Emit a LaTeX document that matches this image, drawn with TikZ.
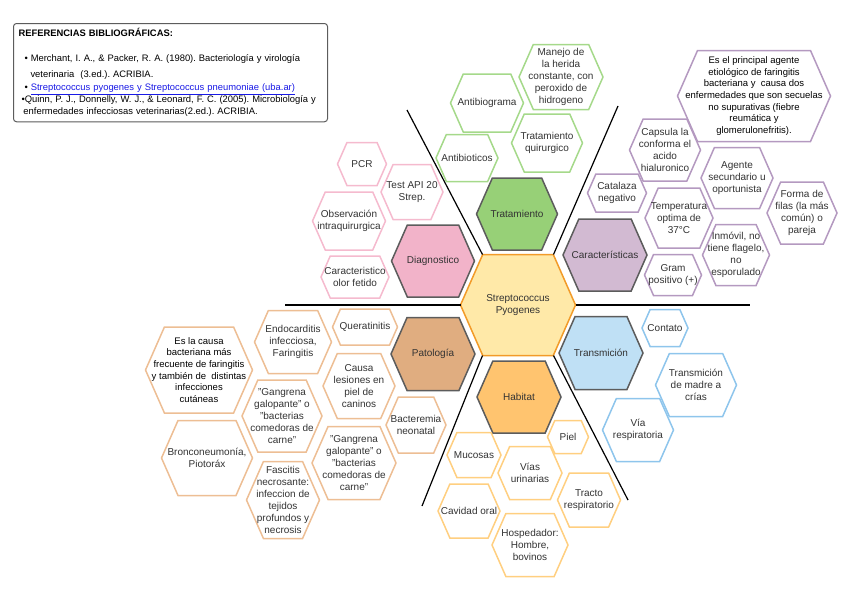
\documentclass[tikz,border=0pt]{standalone}
\usepackage{fontspec}
\setmainfont{Liberation Sans}
\usepackage{tikz}
\frenchspacing

\definecolor{inkgray}{HTML}{333333}
\definecolor{mainLine}{HTML}{5C5C5C}
\definecolor{coreFill}{HTML}{FFE9A8}
\definecolor{coreLine}{HTML}{F29B29}
\definecolor{tratFill}{HTML}{97D077}
\definecolor{tratLine}{HTML}{A5D98A}
\definecolor{caraFill}{HTML}{D2BAD2}
\definecolor{caraLine}{HTML}{B499C0}
\definecolor{diagFill}{HTML}{F2B3C9}
\definecolor{diagLine}{HTML}{F5BACE}
\definecolor{patoFill}{HTML}{E0AD80}
\definecolor{patoLine}{HTML}{EDBE94}
\definecolor{tranFill}{HTML}{BFE0F5}
\definecolor{tranLine}{HTML}{8EC5EC}
\definecolor{habiFill}{HTML}{FFC46F}
\definecolor{habiLine}{HTML}{FFCF80}
\definecolor{linkblue}{HTML}{1A1AE6}

\makeatletter
\pgfdeclareshape{hexbox}{%
  \inheritsavedanchors[from=rectangle]%
  \inheritanchorborder[from=rectangle]%
  \inheritanchor[from=rectangle]{center}%
  \inheritanchor[from=rectangle]{north}%
  \inheritanchor[from=rectangle]{south}%
  \inheritanchor[from=rectangle]{east}%
  \inheritanchor[from=rectangle]{west}%
  \inheritanchor[from=rectangle]{north east}%
  \inheritanchor[from=rectangle]{north west}%
  \inheritanchor[from=rectangle]{south east}%
  \inheritanchor[from=rectangle]{south west}%
  \inheritanchor[from=rectangle]{text}%
  \inheritanchor[from=rectangle]{base}%
  \backgroundpath{%
    \southwest \pgf@xa=\pgf@x \pgf@ya=\pgf@y
    \northeast \pgf@xb=\pgf@x \pgf@yb=\pgf@y
    \pgf@xc=\pgf@yb \advance\pgf@xc by -\pgf@ya
    \pgf@xc=.22\pgf@xc
    \pgf@yc=.5\pgf@ya \advance\pgf@yc by .5\pgf@yb
    \edef\hexL{\the\pgf@xa}\edef\hexR{\the\pgf@xb}%
    \edef\hexB{\the\pgf@ya}\edef\hexT{\the\pgf@yb}\edef\hexM{\the\pgf@yc}%
    \advance\pgf@xa by \pgf@xc \edef\hexLi{\the\pgf@xa}%
    \advance\pgf@xb by -\pgf@xc \edef\hexRi{\the\pgf@xb}%
    \pgfpathmoveto{\pgfqpoint{\hexL}{\hexM}}%
    \pgfpathlineto{\pgfqpoint{\hexLi}{\hexT}}%
    \pgfpathlineto{\pgfqpoint{\hexRi}{\hexT}}%
    \pgfpathlineto{\pgfqpoint{\hexR}{\hexM}}%
    \pgfpathlineto{\pgfqpoint{\hexRi}{\hexB}}%
    \pgfpathlineto{\pgfqpoint{\hexLi}{\hexB}}%
    \pgfpathclose
  }%
}
\makeatother

\tikzset{
  hexa/.style={shape=hexbox, outer sep=0pt, inner sep=0.5pt, align=center, text=inkgray},
  corehex/.style={hexa, draw=coreLine, line width=1.5pt, fill=coreFill},
  mainhex/.style={hexa, draw=mainLine, line width=1.5pt},
  trathex/.style={hexa, draw=tratLine, line width=1.5pt, fill=white},
  carahex/.style={hexa, draw=caraLine, line width=1.5pt, fill=white},
  diaghex/.style={hexa, draw=diagLine, line width=1.5pt, fill=white},
  patohex/.style={hexa, draw=patoLine, line width=1.5pt, fill=white},
  tranhex/.style={hexa, draw=tranLine, line width=1.5pt, fill=white},
  habihex/.style={hexa, draw=habiLine, line width=1.5pt, fill=white},
  longtext/.style={text=black, font=\fontsize{9.5}{11.7}\selectfont},
  divider/.style={line width=1.2pt, black},
  refbox/.style={draw=mainLine, rounded corners=3pt, line width=1pt, fill=white, anchor=north west,
    align=left, text width=304pt, inner sep=5pt, minimum height=97pt, font=\fontsize{9}{12}\selectfont, text=black}
}

\begin{document}
\begin{tikzpicture}[x=1pt, y=-1pt, every node/.style={font=\fontsize{10}{11.9}\selectfont}]
  \useasboundingbox (0,0) rectangle (848,589);

  \node[refbox] (refs) at (13,23) {\fontsize{9.4}{12}\selectfont\textbf{REFERENCIAS BIBLIOGRÁFICAS:}\\[13pt]
    \hspace*{6pt}• Merchant, I. A., \& Packer, R. A. (1980). Bacteriología y virología\\[4pt]
    \hspace*{12pt}veterinaria\ \ (3.ed.). ACRIBIA.\\[1pt]
    \hspace*{6pt}• \textcolor{linkblue}{\underline{Streptococcus pyogenes y Streptococcus pneumoniae (uba.ar)}}\\
    \hspace*{3pt}•Quinn, P. J., Donnelly, W. J., \& Leonard, F. C. (2005). Microbiología y\\
    \hspace*{5pt}enfermedades infecciosas veterinarias(2.ed.). ACRIBIA.};

  \node[corehex, minimum width=115pt, minimum height=101pt] (strep) at (518,305) {Streptococcus\\Pyogenes};

  \coordinate (cutW) at (285,305);
  \coordinate (cutE) at (750,305);
  \coordinate (cutNW) at (407,110);
  \coordinate (cutNE) at (618,106);
  \coordinate (cutSW) at (422,506);
  \coordinate (cutSE) at (628,500);
  \draw[divider] (strep.west) -- (cutW);
  \draw[divider] (strep.east) -- (cutE);
  \draw[divider] ([xshift=22pt]strep.north west) -- (cutNW);
  \draw[divider] ([xshift=-22pt]strep.north east) -- (cutNE);
  \draw[divider] ([xshift=22pt]strep.south west) -- (cutSW);
  \draw[divider] ([xshift=-22pt]strep.south east) -- (cutSE);

  \node[mainhex, fill=tratFill, minimum width=81pt, minimum height=72pt] (trat) at (517,214) {Tratamiento};
  \node[mainhex, fill=caraFill, minimum width=84pt, minimum height=72pt] (cara) at (605,255) {Características};
  \node[mainhex, fill=diagFill, minimum width=83pt, minimum height=72pt] (diag) at (433,261) {Diagnostico};
  \node[mainhex, fill=patoFill, minimum width=84pt, minimum height=73pt] (pato) at (433,354) {Patología};
  \node[mainhex, fill=tranFill, minimum width=84pt, minimum height=73pt] (tran) at (601,353) {Transmición};
  \node[mainhex, fill=habiFill, minimum width=84pt, minimum height=72pt] (habi) at (519,397) {Habitat};

  \node[trathex, minimum width=73pt, minimum height=58pt] (trat1) at (487,103) {Antibiograma};
  \node[trathex, minimum width=84pt, minimum height=65pt] (trat2) at (561,77) {Manejo de\\la herida\\constante, con\\peroxido de\\hidrogeno};
  \node[trathex, minimum width=71pt, minimum height=58pt] (trat3) at (547,143) {Tratamiento\\quirurgico};
  \node[trathex, minimum width=62pt, minimum height=47pt] (trat4) at (467,158) {Antibioticos};

  \node[diaghex, minimum width=49pt, minimum height=43pt] (diag1) at (362,164) {PCR};
  \node[diaghex, minimum width=62pt, minimum height=55pt] (diag2) at (412,192) {Test API 20\\Strep.};
  \node[diaghex, minimum width=73pt, minimum height=58pt] (diag3) at (349,221) {Observación\\intraquirurgica};
  \node[diaghex, minimum width=68pt, minimum height=42pt] (diag4) at (355,277) {Caracteristico\\olor fetido};

  \node[carahex, longtext, minimum width=153pt, minimum height=91pt] (cara1) at (754,96) {Es el principal agente\\etiológico de faringitis\\bacteriana y\ \ causa dos\\enfermedades que son secuelas\\no supurativas (fiebre\\reumática y\\glomerulonefritis).};
  \node[carahex, minimum width=71pt, minimum height=62pt] (cara2) at (665,150) {Capsula la\\conforma el\\acido\\hialuronico};
  \node[carahex, minimum width=72pt, minimum height=61pt] (cara3) at (737,178) {Agente\\secundario u\\oportunista};
  \node[carahex, minimum width=59pt, minimum height=38pt] (cara4) at (617,193) {Catalaza\\negativo};
  \node[carahex, minimum width=68pt, minimum height=60pt] (cara5) at (679,218) {Temperatura\\optima de\\37°C};
  \node[carahex, minimum width=70pt, minimum height=62pt] (cara6) at (802,213) {Forma de\\filas (la más\\común) o\\pareja};
  \node[carahex, minimum width=67pt, minimum height=61pt] (cara7) at (736,255) {Inmóvil, no\\tiene flagelo,\\no\\esporulado};
  \node[carahex, minimum width=57pt, minimum height=41pt] (cara8) at (673,275) {Gram\\positivo (+)};

  \node[patohex, longtext, minimum width=107pt, minimum height=86pt] (pato1) at (199,370) {Es la causa\\bacteriana más\\frecuente de faringitis\\y también de\ \ distintas\\infecciones\\cutáneas};
  \node[patohex, minimum width=77pt, minimum height=63pt] (pato2) at (293,342) {Endocarditis\\infecciosa,\\Faringitis};
  \node[patohex, minimum width=65pt, minimum height=36pt] (pato3) at (365,327) {Queratinitis};
  \node[patohex, minimum width=72pt, minimum height=65pt] (pato4) at (359,386) {Causa\\lesiones en\\piel de\\caninos};
  \node[patohex, minimum width=80pt, minimum height=72pt] (pato5) at (282,416) {"Gangrena\\galopante" o\\"bacterias\\comedoras de\\carne"};
  \node[patohex, minimum width=60pt, minimum height=56pt] (pato6) at (416,425) {Bacteremia\\neonatal};
  \node[patohex, minimum width=91pt, minimum height=75pt] (pato7) at (207,458) {Bronconeumonía,\\Piotoráx};
  \node[patohex, minimum width=84pt, minimum height=73pt] (pato8) at (354,463) {"Gangrena\\galopante" o\\"bacterias\\comedoras de\\carne"};
  \node[patohex, minimum width=73pt, minimum height=77pt] (pato9) at (283,500) {Fascitis\\necrosante:\\infeccion de\\tejidos\\profundos y\\necrosis};

  \node[habihex, minimum width=41pt, minimum height=33pt] (habi1) at (568,437) {Piel};
  \node[habihex, minimum width=54pt, minimum height=45pt] (habi2) at (474,455) {Mucosas};
  \node[habihex, minimum width=64pt, minimum height=53pt] (habi3) at (530,473) {Vías\\urinarias};
  \node[habihex, minimum width=63pt, minimum height=54pt] (habi4) at (589,500) {Tracto\\respiratorio};
  \node[habihex, minimum width=62pt, minimum height=54pt] (habi5) at (469,511) {Cavidad oral};
  \node[habihex, minimum width=76pt, minimum height=63pt] (habi6) at (530,545) {Hospedador:\\Hombre,\\bovinos};

  \node[tranhex, minimum width=46pt, minimum height=37pt] (tran1) at (665,328) {Contato};
  \node[tranhex, minimum width=81pt, minimum height=63pt] (tran2) at (696,385) {Transmición\\de madre a\\crías};
  \node[tranhex, minimum width=71pt, minimum height=63pt] (tran3) at (638,430) {Vía\\respiratoria};
\end{tikzpicture}
\end{document}
